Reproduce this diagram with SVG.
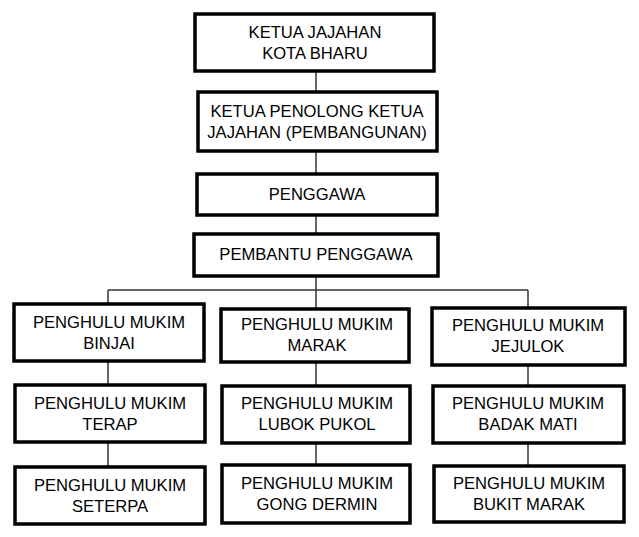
<svg xmlns="http://www.w3.org/2000/svg" width="639" height="537" viewBox="0 0 639 537">
<style>
rect{fill:#fff;stroke:#000;stroke-width:3.5}
text{font-family:"Liberation Sans",Arial,sans-serif;font-size:16.6px;text-anchor:middle;fill:#000}
.c line{stroke:#333;stroke-width:1.5}
</style>
<rect x="0" y="0" width="639" height="537" style="stroke:none"/>
<g class="c">
<line x1="316" y1="71" x2="316" y2="92"/>
<line x1="316" y1="151" x2="316" y2="174"/>
<line x1="316" y1="215" x2="316" y2="234"/>
<line x1="316" y1="276" x2="316" y2="309"/>
<line x1="108" y1="290" x2="528" y2="290"/>
<line x1="108" y1="290" x2="108" y2="304"/>
<line x1="528" y1="290" x2="528" y2="308"/>
<line x1="108" y1="361" x2="108" y2="385"/>
<line x1="108" y1="442" x2="108" y2="467"/>
<line x1="316" y1="362" x2="316" y2="386"/>
<line x1="316" y1="443" x2="316" y2="465"/>
<line x1="528" y1="365" x2="528" y2="386"/>
<line x1="528" y1="443" x2="528" y2="466"/>
</g>
<g id="n1"><rect x="195" y="14" width="239" height="57"/><text x="315" y="38">KETUA JAJAHAN</text><text x="315" y="59">KOTA BHARU</text></g>
<g id="n2"><rect x="198" y="92" width="239" height="59"/><text x="317" y="117">KETUA PENOLONG KETUA</text><text x="317" y="138">JAJAHAN (PEMBANGUNAN)</text></g>
<g id="n3"><rect x="197" y="174" width="240" height="41"/><text x="317" y="200">PENGGAWA</text></g>
<g id="n4"><rect x="194" y="234" width="244" height="42"/><text x="316" y="260">PEMBANTU PENGGAWA</text></g>
<g id="l1"><rect x="14" y="304" width="190" height="57"/><text x="109" y="328">PENGHULU MUKIM</text><text x="109" y="349">BINJAI</text></g>
<g id="l2"><rect x="15" y="385" width="190" height="57"/><text x="110" y="409">PENGHULU MUKIM</text><text x="110" y="430">TERAP</text></g>
<g id="l3"><rect x="15" y="467" width="190" height="57"/><text x="110" y="491">PENGHULU MUKIM</text><text x="110" y="512">SETERPA</text></g>
<g id="m1"><rect x="221" y="309" width="188" height="53"/><text x="317" y="330">PENGHULU MUKIM</text><text x="317" y="351">MARAK</text></g>
<g id="m2"><rect x="222" y="386" width="188" height="57"/><text x="317" y="409">PENGHULU MUKIM</text><text x="317" y="430">LUBOK PUKOL</text></g>
<g id="m3"><rect x="222" y="465" width="188" height="58"/><text x="317" y="489">PENGHULU MUKIM</text><text x="317" y="510">GONG DERMIN</text></g>
<g id="r1"><rect x="432" y="308" width="193" height="57"/><text x="528" y="331">PENGHULU MUKIM</text><text x="528" y="352">JEJULOK</text></g>
<g id="r2"><rect x="433" y="386" width="191" height="57"/><text x="528" y="409">PENGHULU MUKIM</text><text x="528" y="430">BADAK MATI</text></g>
<g id="r3"><rect x="434" y="466" width="190" height="56"/><text x="529" y="489">PENGHULU MUKIM</text><text x="529" y="510">BUKIT MARAK</text></g>
</svg>
